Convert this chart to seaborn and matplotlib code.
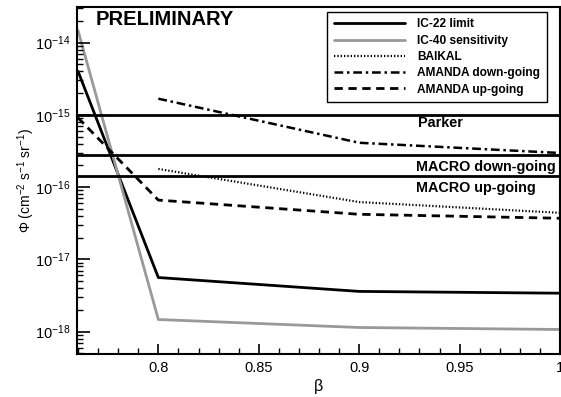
import numpy as np
import pandas as pd
import matplotlib
matplotlib.use("Agg")
import matplotlib.pyplot as plt
import seaborn as sns
from matplotlib.ticker import LogLocator, MultipleLocator, NullFormatter, FixedLocator

# ---- data ----
beta_ic = [0.76, 0.8, 0.9, 1.0]
ic22_limit = [4.0e-15, 5.6e-18, 3.6e-18, 3.4e-18]
ic40_sens = [1.47e-14, 1.47e-18, 1.14e-18, 1.07e-18]
beta_amanda_up = [0.76, 0.8, 0.9, 1.0]
amanda_up = [9.1e-16, 6.6e-17, 4.2e-17, 3.7e-17]
beta_other = [0.8, 0.9, 1.0]
baikal = [1.78e-16, 6.2e-17, 4.4e-17]
amanda_down = [1.67e-15, 4.1e-16, 2.96e-16]
parker = 1.0e-15
macro_down = 2.8e-16
macro_up = 1.4e-16
x_ticks = [0.8, 0.85, 0.9, 0.95, 1.0]
x_tick_labels = ["0.8", "0.85", "0.9", "0.95", "1"]

sns.set_style("ticks")
plt.rcParams["font.family"] = ["Liberation Sans", "DejaVu Sans"]
plt.rcParams["mathtext.fontset"] = "custom"
plt.rcParams["mathtext.rm"] = "Liberation Sans"
plt.rcParams["mathtext.it"] = "Liberation Sans:italic"
plt.rcParams["mathtext.bf"] = "Liberation Sans:bold"
plt.rcParams["axes.unicode_minus"] = False
plt.rcParams["axes.axisbelow"] = False
plt.rcParams["text.color"] = "black"
plt.rcParams["axes.labelcolor"] = "black"
plt.rcParams["xtick.color"] = "black"
plt.rcParams["ytick.color"] = "black"
plt.rcParams["xtick.direction"] = "in"
plt.rcParams["ytick.direction"] = "in"

fig = plt.figure(figsize=(5.61, 3.97), dpi=100)
ax = fig.add_axes([77/561, 1-354/397, 483/561, 347/397])

def draw(x, y, label, color, ls, lw):
    df = pd.DataFrame({"beta": x, "flux": y})
    sns.lineplot(data=df, x="beta", y="flux", ax=ax, color=color, linestyle=ls,
                 linewidth=lw, label=label, sort=False, estimator=None)

draw(beta_ic, ic22_limit, "IC-22 limit", "black", "-", 2.0)
draw(beta_ic, ic40_sens, "IC-40 sensitivity", "#999999", "-", 2.0)
draw(beta_other, baikal, "BAIKAL", "black", (0, (0.6, 0.9)), 1.6)
draw(beta_other, amanda_down, "AMANDA down-going", "black", (0, (3.5, 1.5, 1, 1.5)), 1.8)
draw(beta_amanda_up, amanda_up, "AMANDA up-going", "black", (0, (3, 2)), 2.0)

for yv in (parker, macro_down, macro_up):
    ax.axhline(yv, color="black", linewidth=2.0)

ax.set_yscale("log")
ax.set_xlim(0.7595, 1.0)
ax.set_ylim(4.9e-19, 3.1e-14)

ax.xaxis.set_major_locator(FixedLocator(x_ticks))
ax.set_xticklabels(x_tick_labels)
ax.xaxis.set_minor_locator(MultipleLocator(0.01))
ax.yaxis.set_major_locator(LogLocator(base=10, numticks=20))
ax.yaxis.set_minor_locator(LogLocator(base=10, subs=np.arange(2, 10), numticks=100))
ax.yaxis.set_minor_formatter(NullFormatter())

ax.tick_params(axis="both", which="major", direction="in", length=7.5, width=1.2,
               labelsize=10.5, color="black", labelcolor="black", pad=5,
               bottom=True, left=True, top=False, right=False)
ax.tick_params(axis="y", which="major", length=9)
ax.tick_params(axis="both", which="minor", direction="in", length=4, width=1.0,
               color="black", bottom=True, left=True, top=False, right=False)

for s in ax.spines.values():
    s.set_linewidth(1.5)
    s.set_color("black")

ax.set_xlabel("β", fontsize=11.5, labelpad=3)
ax.set_ylabel("Φ (cm$^{-2}$ s$^{-1}$ sr$^{-1}$)", fontsize=10, labelpad=0)
ax.yaxis.set_label_coords(-0.082, 0.5)

ax.text(0.039, 0.965, "PRELIMINARY", transform=ax.transAxes, fontsize=14.5,
        fontweight="bold", ha="left", va="center")
ax.text(0.9295, 7.7e-16, "Parker", fontsize=10.4, fontweight="bold", ha="left", va="center")
ax.text(0.9285, 1.9e-16, "MACRO down-going", fontsize=10.4, fontweight="bold", ha="left", va="center")
ax.text(0.9285, 9.7e-17, "MACRO up-going", fontsize=10.4, fontweight="bold", ha="left", va="center")

leg = ax.legend(loc="upper right", bbox_to_anchor=(0.973, 0.986),
                prop={"weight": "bold", "size": 8.6}, handlelength=6.0, handletextpad=1.0,
                labelspacing=0.36, borderpad=0.55, borderaxespad=0, fancybox=False,
                framealpha=1, edgecolor="black")
leg.get_frame().set_linewidth(1.0)
for t in leg.get_texts():
    t.set_color("black")

fig.savefig("out.png", dpi=100)
